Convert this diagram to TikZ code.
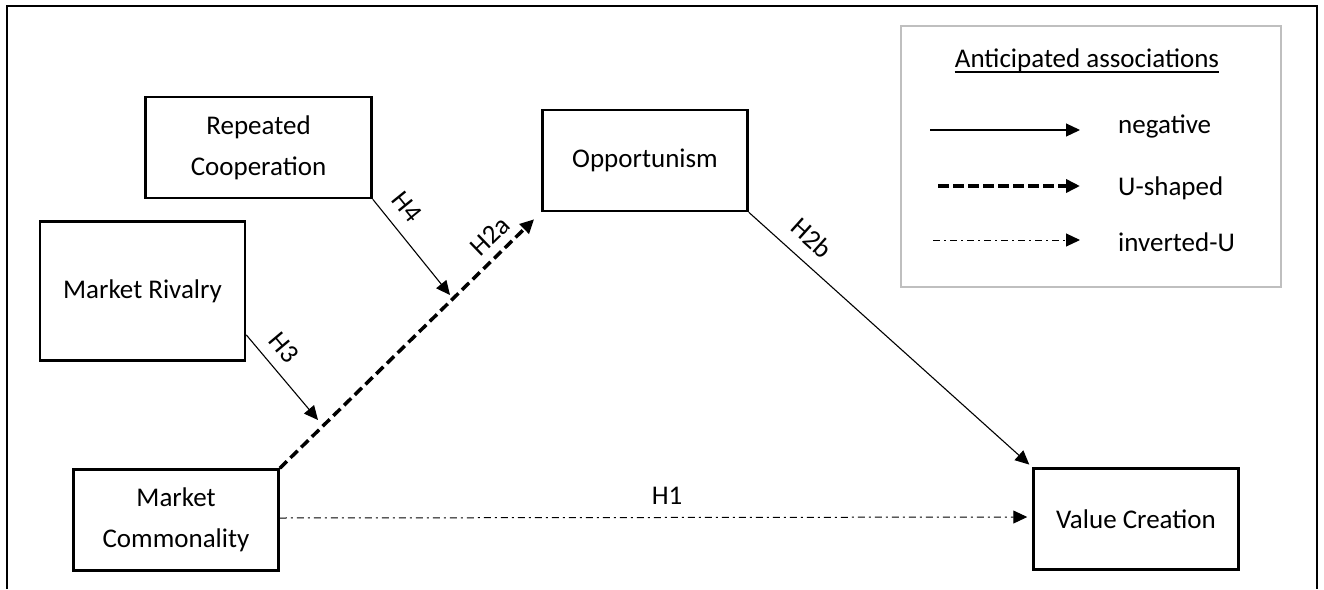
\documentclass[tikz,border=0pt]{standalone}
\usepackage{fontspec}
\setmainfont{Carlito}
\usetikzlibrary{arrows.meta,calc}
\newcommand\diagfont{\fontsize{27}{41}\selectfont}
\begin{document}
\begin{tikzpicture}[x=1pt,y=-1pt,
  box/.style={draw, line width=2.5pt, inner sep=0pt, align=center, font=\diagfont,
    minimum width=205pt, minimum height=101pt},
  lab/.style={inner sep=0pt, font=\diagfont},
  tip/.style={-{Triangle[length=14pt,width=13pt]}},
  neg/.style={tip, line width=1.1pt},
  ushape/.style={tip, line width=3.5pt, dash pattern=on 10pt off 5pt},
  invu/.style={tip, line width=1pt, dash pattern=on 7pt off 4pt on 2pt off 4pt},
  legtext/.style={anchor=base west, inner sep=0pt, font=\diagfont}]
\useasboundingbox (0,0) rectangle (1324,589);
\fill[white] (0,0) rectangle (1324,589);
% outer frame, open at the bottom
\draw[line width=2pt] (7,589) -- (7,6) -- (1317,6) -- (1317,589);

% constructs
\node[box, minimum width=226pt] (rc) at (258.5,147.5) {Repeated\\Cooperation};
\node[box, minimum height=139pt] (mr) at (142.5,291) {Market Rivalry};
\node[box] (op) at (645,160.5) {Opportunism};
\node[box] (mc) at (176,520) {Market\\Commonality};
\node[box] (vc) at (1136,519) {Value Creation};

% moderation targets on the H2a path
\coordinate (t4) at (450,295);
\coordinate (t3) at (318,420);

% hypothesised paths
\draw[ushape, shorten >=10pt] (mc.north east) -- (op.south west);
\draw[neg, shorten >=4pt] (op.south east) -- (vc.north west);
\draw[invu, shorten >=5pt] ([yshift=2pt]mc.east) -- ([yshift=2pt]vc.west);
\draw[neg] (rc.south east) -- (t4);
\draw[neg] ($(mr.north east)!0.81!(mr.south east)$) -- (t3);

% path labels
\node[lab, rotate=-51] (h4) at (407,207) {H4};
\node[lab, rotate=44] (h2a) at (490,236) {H2a};
\node[lab, rotate=-50] (h3) at (284,348) {H3};
\node[lab, rotate=-42] (h2b) at (812,238) {H2b};
\node[lab] (h1) at (667,496) {H1};

% legend
\node[draw=black!25, line width=2pt, minimum width=380pt, minimum height=261pt, inner sep=0pt] (legend) at (1091,156.5) {};
\node[anchor=base, inner sep=0pt, font=\diagfont] (ltitle) at (1087,67) {Anticipated associations};
\draw[line width=1.1pt] ([yshift=-5pt]ltitle.base west) -- ([yshift=-5pt]ltitle.base east);

\coordinate (a1) at (930,130);  \coordinate (b1) at (1080,130);
\coordinate (a2) at (938,186);  \coordinate (b2) at (1080,186);
\coordinate (a3) at (933,240);  \coordinate (b3) at (1080,240);
\draw[neg] (a1) -- (b1);
\draw[ushape, dash pattern=on 11pt off 4pt] (a2) -- (b2);
\draw[invu] (a3) -- (b3);
\node[legtext] (lneg) at (1118,133) {negative};
\node[legtext] (lu) at (1118,195) {U-shaped};
\node[legtext] (linv) at (1118,251) {inverted-U};
\end{tikzpicture}
\end{document}
